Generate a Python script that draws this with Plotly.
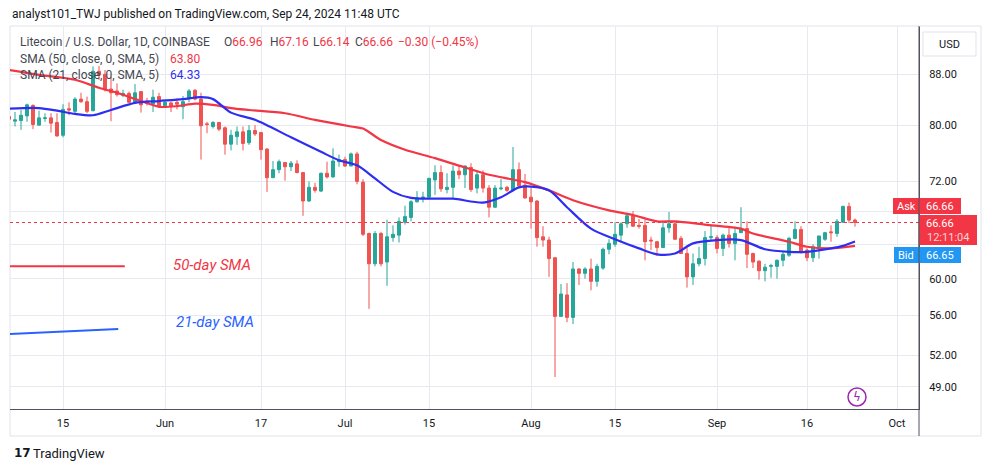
import math
import pandas as pd
import plotly.graph_objects as go

# ---------------- data ----------------
dates = pd.date_range("2024-05-06", "2024-09-24", freq="D")

opens = [
    81.3, 80.6, 80.7, 81.4, 83.0, 80.0, 81.0, 81.1, 80.4, 78.5,
    82.5, 82.1, 84.0, 83.6, 82.2, 88.5, 88.0, 85.6, 85.3, 84.6,
    84.9, 83.5, 85.2, 83.7, 83.2, 84.4, 83.0, 83.4, 83.5, 82.8,
    84.1, 85.4, 84.0, 80.2, 79.8, 80.4, 79.6, 77.2, 78.3, 79.0,
    77.4, 79.2, 78.9, 76.5, 72.5, 73.6, 74.6, 74.0, 74.4, 73.2,
    69.4, 71.2, 70.7, 73.1, 72.6, 74.7, 75.0, 74.1, 75.8, 71.9,
    65.3, 61.7, 65.3, 61.9, 64.8, 65.1, 66.7, 67.3, 69.3, 69.8,
    69.9, 72.2, 73.2, 70.9, 71.2, 73.4, 72.9, 73.9, 71.1, 72.9,
    71.1, 68.6, 71.0, 71.2, 70.8, 73.6, 71.5, 69.9, 69.4, 64.9,
    64.5, 62.4, 55.9, 58.2, 55.8, 61.1, 60.6, 61.1, 59.7, 61.2,
    63.4, 64.0, 65.1, 66.5, 67.5, 66.3, 66.3, 64.5, 64.3, 63.6,
    66.0, 66.5, 64.7, 62.9, 60.2, 61.7, 62.3, 64.8, 64.8, 63.5,
    65.1, 64.1, 65.4, 65.9, 62.9, 62.0, 60.9, 61.4, 61.4, 62.1,
    62.7, 64.7, 65.8, 63.3, 62.4, 63.7, 64.6, 65.5, 65.3, 66.7,
    68.7, 66.96,
]
highs = [
    82.4, 82.0, 82.3, 83.3, 83.2, 82.2, 81.8, 81.8, 81.8, 83.2,
    83.5, 84.3, 85.0, 84.4, 89.3, 89.4, 88.7, 87.6, 86.5, 85.5,
    85.2, 86.4, 85.2, 84.2, 85.5, 85.0, 83.8, 83.6, 84.1, 84.5,
    85.6, 85.6, 85.0, 80.5, 80.6, 80.5, 79.8, 79.3, 79.8, 79.8,
    80.0, 80.0, 79.0, 76.6, 74.8, 75.0, 74.6, 74.8, 74.9, 73.2,
    72.0, 71.8, 73.2, 74.7, 76.6, 75.7, 75.4, 76.0, 76.1, 72.3,
    65.4, 65.6, 65.5, 67.0, 66.3, 67.3, 68.8, 69.5, 70.7, 70.6,
    72.5, 74.2, 74.2, 73.1, 74.2, 74.1, 74.2, 74.5, 73.5, 73.5,
    71.5, 71.5, 72.3, 71.4, 76.8, 74.6, 73.0, 71.1, 69.5, 66.2,
    64.9, 62.5, 59.4, 59.5, 61.9, 61.2, 61.3, 62.3, 61.7, 63.6,
    64.6, 66.7, 66.7, 67.9, 68.1, 67.1, 67.0, 64.9, 64.4, 66.8,
    68.0, 66.8, 65.0, 63.8, 62.9, 63.7, 65.6, 66.4, 65.1, 65.3,
    66.0, 66.0, 68.6, 66.8, 63.0, 62.1, 61.7, 61.7, 62.2, 63.1,
    64.9, 66.8, 66.2, 63.5, 64.0, 65.0, 65.5, 66.3, 67.1, 68.8,
    69.2, 67.16,
]
lows = [
    80.5, 79.8, 79.3, 80.5, 79.4, 80.0, 80.5, 78.9, 78.3, 78.2,
    81.5, 81.8, 83.4, 81.8, 82.1, 87.1, 85.2, 80.6, 84.4, 84.3,
    83.4, 83.4, 81.9, 83.0, 82.0, 82.8, 82.7, 82.0, 82.4, 80.9,
    83.5, 83.8, 75.0, 78.8, 79.5, 79.1, 75.7, 76.3, 77.1, 76.3,
    77.1, 78.4, 75.0, 70.6, 72.5, 73.1, 72.1, 73.4, 73.1, 67.5,
    69.3, 70.5, 70.6, 72.4, 72.5, 74.0, 74.0, 74.1, 71.6, 65.0,
    56.7, 61.4, 61.4, 59.2, 64.3, 64.2, 66.4, 66.8, 69.2, 69.2,
    69.8, 70.2, 70.6, 70.4, 69.8, 72.3, 71.1, 70.6, 70.4, 70.5,
    67.3, 68.5, 70.8, 70.6, 70.8, 71.3, 69.7, 65.9, 63.7, 63.7,
    60.2, 49.9, 55.9, 55.3, 55.1, 59.3, 60.0, 58.7, 59.1, 61.0,
    62.8, 63.7, 64.4, 66.0, 66.1, 65.9, 62.1, 63.3, 62.6, 63.6,
    65.4, 64.5, 62.9, 59.0, 59.3, 61.4, 61.5, 64.5, 62.9, 62.6,
    63.6, 62.1, 65.4, 61.2, 61.2, 59.9, 59.7, 60.1, 60.0, 61.4,
    62.5, 64.6, 62.9, 62.0, 61.9, 62.3, 64.4, 64.3, 64.9, 66.6,
    66.6, 66.14,
]
closes = [
    80.9, 80.8, 81.5, 83.1, 80.1, 81.1, 81.1, 80.3, 78.4, 82.4,
    82.3, 84.0, 83.6, 82.1, 88.5, 87.9, 85.5, 85.0, 84.7, 84.9,
    83.5, 85.0, 83.1, 83.3, 84.3, 82.9, 83.5, 83.0, 83.2, 83.6,
    85.3, 84.0, 79.9, 80.1, 80.4, 79.4, 77.2, 78.5, 79.0, 77.3,
    79.2, 78.7, 76.4, 72.5, 73.6, 74.7, 74.0, 74.5, 73.2, 69.4,
    71.2, 70.8, 73.1, 72.6, 74.8, 75.0, 74.1, 75.8, 72.0, 65.2,
    61.7, 65.3, 61.7, 64.9, 65.2, 66.8, 67.4, 69.3, 69.8, 69.9,
    72.4, 73.2, 71.0, 71.2, 73.4, 72.9, 74.1, 70.9, 72.9, 71.1,
    68.6, 71.1, 71.1, 70.8, 73.6, 71.4, 69.8, 69.3, 64.8, 64.5,
    62.3, 55.9, 58.3, 55.8, 61.1, 60.6, 61.1, 59.7, 61.4, 63.4,
    64.1, 65.2, 66.5, 67.5, 66.2, 66.2, 64.3, 64.4, 63.6, 66.0,
    66.5, 64.6, 62.9, 60.2, 61.7, 62.3, 64.8, 64.9, 63.5, 65.1,
    64.1, 65.3, 65.9, 62.8, 61.9, 60.9, 61.3, 61.5, 62.1, 62.8,
    64.7, 65.8, 63.0, 62.4, 63.7, 65.0, 65.4, 65.4, 66.8, 68.7,
    66.96, 66.66,
]

sma50_dates = ["2024-05-06", "2024-05-11", "2024-05-17", "2024-05-21", "2024-05-24",
               "2024-05-28", "2024-05-31", "2024-06-03", "2024-06-06", "2024-06-09",
               "2024-06-12", "2024-06-15", "2024-06-21", "2024-06-26", "2024-07-02",
               "2024-07-04", "2024-07-07", "2024-07-11", "2024-07-16", "2024-07-21",
               "2024-07-25", "2024-07-31", "2024-08-04", "2024-08-08", "2024-08-14",
               "2024-08-18", "2024-08-22", "2024-08-25", "2024-08-30", "2024-09-05",
               "2024-09-07", "2024-09-13", "2024-09-16", "2024-09-20", "2024-09-24"]
sma50_values = [88.7, 87.9, 87.1, 85.8, 85.0,
                83.7, 82.8, 82.9, 83.3, 83.1,
                82.6, 82.3, 81.8, 80.8, 79.8,
                79.5, 77.8, 76.4, 75.2, 73.9,
                72.9, 71.9, 70.8, 69.5, 68.2,
                67.6, 66.8, 66.8, 66.4, 65.9,
                65.3, 64.3, 63.7, 63.5, 63.8]

sma21_dates = ["2024-05-06", "2024-05-11", "2024-05-14", "2024-05-17", "2024-05-20",
               "2024-05-23", "2024-05-27", "2024-05-31", "2024-06-04", "2024-06-07",
               "2024-06-09", "2024-06-12", "2024-06-16", "2024-06-22", "2024-06-27",
               "2024-06-30", "2024-07-03", "2024-07-06", "2024-07-09", "2024-07-12",
               "2024-07-15", "2024-07-19", "2024-07-24", "2024-07-27", "2024-07-30",
               "2024-08-01", "2024-08-04", "2024-08-07", "2024-08-11", "2024-08-15",
               "2024-08-19", "2024-08-22", "2024-08-25", "2024-08-28", "2024-09-01",
               "2024-09-05", "2024-09-09", "2024-09-13", "2024-09-16", "2024-09-20",
               "2024-09-22", "2024-09-24"]
sma21_values = [82.5, 82.6, 82.2, 81.7, 81.5,
                82.3, 83.4, 83.7, 84.0, 84.3,
                84.0, 81.9, 80.8, 78.2, 76.1,
                74.9, 74.2, 72.4, 70.6, 69.8,
                69.7, 69.7, 69.2, 69.9, 71.2,
                71.3, 70.8, 68.6, 65.9, 64.6,
                63.5, 62.8, 62.9, 64.1, 64.5,
                64.5, 63.4, 63.1, 63.1, 63.5,
                63.8, 64.33]

# hand-drawn annotation lines (bottom-left)
note50_x = ["2024-05-06 04:00", "2024-05-25 07:00"]
note50_y = [61.4, 61.4]
note21_x = ["2024-05-06 04:00", "2024-05-24 05:00"]
note21_y = [54.1, 54.6]

y_tickvals = [49, 52, 56, 60, 64, 68, 72, 80, 88]
y_ticktext = ["49.00", "52.00", "56.00", "60.00", "", "", "72.00", "80.00", "88.00"]
x_tickvals = ["2024-05-15", "2024-06-01", "2024-06-17", "2024-07-01", "2024-07-15",
              "2024-08-01", "2024-08-15", "2024-09-01", "2024-09-16", "2024-10-01"]
x_ticktext = ["15", "Jun", "17", "Jul", "15", "Aug", "15", "Sep", "16", "Oct"]

last_price = 66.66

# ---------------- style ----------------
UP = "#26a69a"
DOWN = "#ef5350"
RED = "#f23645"
SMA50_C = "#f23645"
SMA21_C = "#2e2ef2"
NOTE_BLUE = "#2962ff"
GRID = "#e6e9ef"
TXT = "#131722"
AXIS = "#50535e"
FONT = "Roboto, 'Noto Sans', sans-serif"

W, H = 991, 472
L, R, T, B = 10, 919, 27, 409


def fx(px):
    return (px - L) / (R - L)


def fy(py):
    return (B - py) / (B - T)


# price scale calibration (log)
ymin = 88 * math.exp(-(B - 74.3) / 533.6)
ymax = 88 * math.exp((74.3 - T) / 533.6)
base = pd.Timestamp("2024-05-15")
x0 = base + pd.Timedelta(days=(L - 63) / 6)
x1 = base + pd.Timedelta(days=(R - 63) / 6)

fig = go.Figure()
fig.add_trace(go.Candlestick(
    x=dates, open=opens, high=highs, low=lows, close=closes,
    increasing=dict(line=dict(color=UP, width=1), fillcolor=UP),
    decreasing=dict(line=dict(color=DOWN, width=1), fillcolor=DOWN),
    whiskerwidth=0, hoverinfo="skip", showlegend=False,
))
fig.add_trace(go.Scatter(x=sma50_dates, y=sma50_values, mode="lines",
                         line=dict(color=SMA50_C, width=2.2, shape="spline", smoothing=0.8),
                         hoverinfo="skip", showlegend=False))
fig.add_trace(go.Scatter(x=sma21_dates, y=sma21_values, mode="lines",
                         line=dict(color=SMA21_C, width=2.2, shape="spline", smoothing=0.8),
                         hoverinfo="skip", showlegend=False))
fig.add_trace(go.Scatter(x=note50_x, y=note50_y, mode="lines",
                         line=dict(color=SMA50_C, width=2), hoverinfo="skip", showlegend=False))
fig.add_trace(go.Scatter(x=note21_x, y=note21_y, mode="lines",
                         line=dict(color=NOTE_BLUE, width=2), hoverinfo="skip", showlegend=False))

shapes = []
# outer frame
shapes.append(dict(type="rect", xref="paper", yref="paper", x0=fx(10), x1=fx(981),
                   y0=fy(436), y1=fy(26), line=dict(color="#e0e3eb", width=1), layer="below"))
# price line
shapes.append(dict(type="line", xref="paper", yref="y", x0=0, x1=1,
                   y0=last_price, y1=last_price, line=dict(color=RED, width=1, dash="dot")))
# price axis line extension
shapes.append(dict(type="line", xref="paper", yref="paper", x0=1, x1=1,
                   y0=fy(436), y1=fy(26), line=dict(color=AXIS, width=1)))
# USD box
shapes.append(dict(type="rect", xref="paper", yref="paper", x0=fx(923), x1=fx(976),
                   y0=fy(56), y1=fy(32), line=dict(color="#e0e3eb", width=1), fillcolor="white"))
# Ask box
shapes.append(dict(type="rect", xref="paper", yref="paper", x0=fx(893), x1=fx(961),
                   y0=fy(214), y1=fy(198), line=dict(width=0), fillcolor="#f23645"))
# last price box
shapes.append(dict(type="rect", xref="paper", yref="paper", x0=fx(919), x1=fx(977),
                   y0=fy(245), y1=fy(215), line=dict(width=0), fillcolor="#f23645"))
# Bid box
shapes.append(dict(type="rect", xref="paper", yref="paper", x0=fx(894), x1=fx(961),
                   y0=fy(263), y1=fy(247), line=dict(width=0), fillcolor="#2196f3"))
# axis line over boxes
shapes.append(dict(type="line", xref="paper", yref="paper", x0=1, x1=1,
                   y0=fy(263), y1=fy(198), line=dict(color=AXIS, width=1)))
# lightning icon circle
shapes.append(dict(type="circle", xref="paper", yref="paper", x0=fx(848), x1=fx(866),
                   y0=fy(406), y1=fy(388), line=dict(color="#9c27b0", width=1.5)))

annotations = []


def txt(px, py, text, color=TXT, size=12, anchor="left", italic=False, family=FONT):
    annotations.append(dict(
        xref="paper", yref="paper", x=fx(px), y=fy(py), text=text, showarrow=False,
        xanchor=anchor, yanchor="middle",
        font=dict(color=color, size=size, family=family,
                  style="italic" if italic else "normal"),
    ))


txt(10, 14, "analyst101_TWJ published on TradingView.com, Sep 24, 2024 11:48 UTC", size=12)
txt(18, 42, "Litecoin / U.S. Dollar, 1D, COINBASE", color="#434651", size=12)
txt(222, 42, f"O<span style='color:{RED}'>66.96</span>", color="#434651", size=12)
txt(268, 42, f"H<span style='color:{RED}'>67.16</span>", color="#434651", size=12)
txt(311, 42, f"L<span style='color:{RED}'>66.14</span>", color="#434651", size=12)
txt(353, 42, f"C<span style='color:{RED}'>66.66</span>", color="#434651", size=12)
txt(396, 42, "−0.30 (−0.45%)", color=RED, size=12)
txt(18, 59, "SMA (50, close, 0, SMA, 5)", color="#434651", size=12)
txt(168, 59, "63.80", color=RED, size=12)
txt(18, 75, "SMA (21, close, 0, SMA, 5)", color="#434651", size=12)
txt(168, 75, "64.33", color=SMA21_C, size=12)

txt(212, 265, "50-day SMA", color=SMA50_C, size=15, anchor="center", italic=True)
txt(215, 322, "21-day SMA", color=NOTE_BLUE, size=15, anchor="center", italic=True)

txt(949, 44, "USD", size=11, anchor="center")
txt(906, 206, "Ask", color="white", size=11, anchor="center")
txt(940, 206, "66.66", color="white", size=11, anchor="center")
txt(940, 223, "66.66", color="white", size=11, anchor="center")
txt(948, 237, "12:11:04", color="#fcd2d4", size=11, anchor="center")
txt(906, 255, "Bid", color="white", size=11, anchor="center")
txt(940, 255, "66.65", color="white", size=11, anchor="center")

txt(857, 397, "ϟ", color="#9c27b0", size=12, anchor="center", family="DejaVu Sans")

txt(12, 453, "<b>17</b>", color=TXT, size=12, family="DejaVu Sans")
txt(31, 453, "TradingView", color=TXT, size=13)

fig.update_layout(
    width=W, height=H,
    margin=dict(l=L, r=W - R, t=T, b=H - B),
    paper_bgcolor="white", plot_bgcolor="white",
    showlegend=False, hovermode=False, dragmode=False,
    shapes=shapes, annotations=annotations,
    font=dict(family=FONT, color=TXT),
    xaxis=dict(
        type="date", range=[x0, x1], rangeslider=dict(visible=False),
        tickvals=x_tickvals, ticktext=x_ticktext,
        showgrid=True, gridcolor=GRID, gridwidth=1,
        showline=True, linecolor=AXIS, linewidth=1,
        ticks="", tickfont=dict(size=11, color=TXT), ticklabelstandoff=4,
        zeroline=False, fixedrange=True,
    ),
    yaxis=dict(
        type="log", side="right", range=[math.log10(ymin), math.log10(ymax)],
        tickvals=y_tickvals, ticktext=y_ticktext,
        showgrid=True, gridcolor=GRID, gridwidth=1,
        showline=True, linecolor=AXIS, linewidth=1,
        ticks="", tickfont=dict(size=11, color=TXT), ticklabelstandoff=7,
        zeroline=False, fixedrange=True,
    ),
)

fig.write_html(
    "out.html",
    config={"staticPlot": True},
    post_script="document.body.style.margin='0';document.body.style.overflow='hidden';",
)
